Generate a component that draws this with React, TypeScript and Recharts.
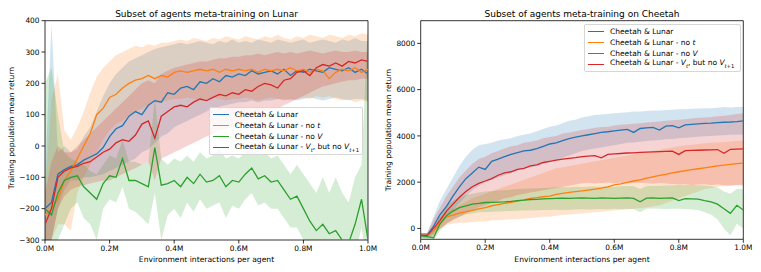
import React from "react";
import {
  Area,
  ComposedChart,
  Line,
  ReferenceArea,
  XAxis,
  YAxis,
} from "recharts";

// x positions, in millions of environment interactions
const X = [
  0, 0.02, 0.04, 0.06, 0.08, 0.1, 0.12, 0.14, 0.16, 0.18, 0.2, 0.22, 0.24, 0.26, 0.28, 0.3, 0.32,
  0.34, 0.36, 0.38, 0.4, 0.42, 0.44, 0.46, 0.48, 0.5, 0.52, 0.54, 0.56, 0.58, 0.6, 0.62, 0.64, 0.66,
  0.68, 0.7, 0.72, 0.74, 0.76, 0.78, 0.8, 0.82, 0.84, 0.86, 0.88, 0.9, 0.92, 0.94, 0.96, 0.98, 1.0,
];

// ---- Lunar (left) ----
const L_BLUE = [-200,-180,-90,-75,-65,-60,-45,-35,-25,-5,30,55,65,95,110,100,130,145,140,170,165,185,190,180,205,200,215,205,225,220,230,225,240,230,235,240,230,245,225,240,235,245,240,235,250,245,240,250,235,245,230];
const L_BLUE_LO = [-300,-300,-200,-140,-110,-110,-100,-100,-95,-90,-80,-70,-60,-50,-40,-20,-10,10,30,40,60,70,80,90,100,110,120,125,130,135,140,140,145,140,145,145,150,145,150,145,150,155,150,145,150,155,150,145,150,150,145];
const L_BLUE_HI = [-100,390,-20,0,-20,-10,30,60,110,160,200,230,250,270,280,290,300,310,315,320,325,330,325,330,335,330,325,335,330,340,330,335,330,340,335,330,340,335,330,335,340,330,335,340,335,330,340,335,345,335,335];

const L_ORANGE = [-220,-200,-170,-110,-80,-40,0,40,100,120,155,165,185,200,210,215,225,215,225,220,235,240,235,240,245,240,245,235,245,240,245,240,245,235,245,240,245,240,250,240,245,235,245,240,215,235,245,240,250,235,245];
const L_ORANGE_LO = [-300,-300,-250,-250,-270,-150,-100,-60,-20,20,50,70,80,100,110,120,130,140,140,145,150,150,155,150,145,150,155,150,145,150,150,155,150,145,150,155,150,150,145,150,155,150,160,155,160,150,145,150,140,145,140];
const L_ORANGE_HI = [-150,150,230,50,20,60,110,170,220,250,270,290,300,310,320,315,325,320,330,330,335,340,335,345,340,335,345,340,350,345,340,350,345,340,350,345,355,345,340,350,345,355,350,345,355,350,345,355,350,360,355];

const L_GREEN = [-200,-220,-150,-110,-100,-95,-130,-150,-170,-120,-95,-100,-40,-110,-110,-120,-130,-5,-125,-120,-110,-130,-100,-120,-90,-115,-110,-95,-130,-110,-115,-90,-70,-105,-95,-115,-110,-140,-170,-160,-200,-240,-270,-250,-280,-270,-300,-310,-250,-170,-300];
const L_GREEN_LO = [-300,-300,-300,-250,-200,-180,-230,-250,-300,-200,-170,-180,-130,-200,-210,-230,-250,-150,-300,-220,-200,-230,-180,-210,-170,-200,-190,-180,-230,-190,-200,-170,-150,-190,-180,-200,-200,-230,-260,-260,-300,-330,-360,-340,-370,-360,-400,-400,-350,-260,-400];
const L_GREEN_HI = [200,250,100,-20,-40,-50,-60,-80,-90,-60,-30,-40,20,-50,-50,-60,-50,150,-40,-60,-40,-50,-30,-50,-20,-40,-30,-10,-40,-30,-40,-20,0,-30,-20,-40,-30,-60,-90,-60,-90,-120,-150,-100,-150,-100,-150,-180,-100,-60,400];

const L_RED = [-250,-200,-100,-80,-70,-65,-55,-50,-35,-20,-10,10,20,15,35,70,80,25,95,110,125,130,125,140,150,145,155,165,160,170,165,180,175,190,200,195,185,210,215,235,240,225,250,260,255,265,255,270,265,275,270];
const L_RED_LO = [-300,-300,-200,-160,-140,-130,-125,-120,-115,-110,-110,-100,-90,-80,-70,-60,-50,-110,-40,-30,-20,-10,0,10,20,30,40,50,55,60,70,80,90,100,110,115,120,130,140,150,160,170,180,190,195,200,205,210,210,215,215];
const L_RED_HI = [-150,-50,0,-20,-20,0,20,40,60,80,100,120,140,160,180,200,210,200,230,240,250,255,260,265,270,270,275,280,280,285,285,290,290,295,290,295,300,295,300,295,300,305,300,295,300,305,300,300,305,300,300];

// ---- Cheetah (right) ----
const C_BLUE = [-300,-300,100,600,950,1400,1800,2150,2400,2650,2550,2900,3000,3100,3200,3280,3350,3380,3450,3550,3650,3700,3800,3880,3950,4000,4050,4100,4150,4180,4220,4250,4280,4150,4320,4350,4370,4250,4420,4440,4350,4480,4500,4520,4540,4550,4570,4590,4600,4620,4650];
const C_BLUE_LO = [-400,-400,-200,200,500,800,1100,1400,1650,1850,2000,2100,2200,2300,2400,2500,2600,2650,2700,2800,2900,2950,3050,3150,3250,3350,3400,3450,3500,3550,3600,3650,3700,3720,3750,3780,3800,3820,3850,3870,3900,3920,3940,3960,3980,4000,4020,4030,4050,4050,4060];
const C_BLUE_HI = [-200,-200,500,1200,1700,2200,2700,3100,3400,3600,3650,3700,3800,3850,3900,4000,4050,4100,4200,4300,4400,4450,4550,4650,4700,4800,4850,4900,4920,4950,4980,5000,5020,5050,5050,5080,5100,5100,5120,5130,5150,5150,5170,5180,5200,5200,5220,5250,5230,5250,5250];

const C_ORANGE = [-300,-300,-100,200,500,580,660,720,780,850,900,980,1030,1080,1130,1180,1230,1300,1330,1370,1400,1470,1520,1560,1590,1620,1660,1700,1740,1800,1880,1930,1990,2050,2100,2170,2230,2290,2340,2400,2450,2500,2540,2580,2620,2660,2700,2740,2770,2800,2820];
const C_ORANGE_LO = [-400,-400,-300,0,150,200,250,250,280,300,300,350,350,380,400,400,420,450,470,500,500,550,580,600,620,650,680,700,720,750,780,800,820,850,880,900,950,1000,1100,1200,1300,1400,1500,1600,1700,1750,1800,1820,1850,1880,1900];
const C_ORANGE_HI = [-200,-200,100,500,700,850,1000,1150,1300,1400,1500,1600,1700,1800,1900,2000,2100,2200,2300,2400,2500,2600,2650,2700,2750,2800,2850,2900,2950,3000,3050,3100,3150,3200,3250,3300,3350,3400,3450,3500,3550,3580,3620,3650,3680,3700,3720,3740,3760,3780,3800];

const C_GREEN = [-300,-350,-400,200,550,750,900,980,1050,1080,1120,1130,1140,1150,1170,1200,1220,1250,1260,1280,1290,1300,1310,1300,1310,1320,1310,1300,1320,1310,1300,1310,1320,1300,1150,1310,1320,1300,1310,1320,1200,1290,1280,1270,1200,1150,1050,850,650,1000,800];
const C_GREEN_LO = [-400,-500,-500,-100,200,400,500,600,650,700,700,720,730,740,750,760,770,780,790,800,800,810,800,810,820,830,820,830,840,830,850,840,850,840,700,850,860,850,840,850,850,840,820,800,700,600,400,0,-300,200,0];
const C_GREEN_HI = [-200,-200,-100,600,1000,1200,1350,1450,1500,1550,1600,1620,1640,1650,1670,1700,1720,1730,1740,1750,1760,1780,1790,1780,1800,1790,1800,1810,1800,1820,1800,1820,1830,1820,1700,1830,1840,1850,1860,1870,1880,1890,1880,1870,1860,1820,1780,1600,1500,1700,1700];

const C_RED = [-300,-300,0,350,750,1050,1350,1600,1800,1950,2050,2150,2300,2400,2450,2550,2600,2700,2750,2850,2900,2950,3000,3030,3060,3100,3130,3150,3050,3200,3220,3240,3260,3270,3290,3300,3310,3320,3330,3340,3200,3360,3370,3380,3390,3400,3410,3250,3420,3430,3440];
const C_RED_LO = [-400,-400,-300,0,200,350,500,650,800,900,1000,1100,1200,1300,1350,1450,1500,1550,1600,1650,1700,1750,1800,1850,1900,1950,1980,1940,1960,1990,1950,1970,1940,1960,1980,1950,1930,1960,1940,1920,1900,1920,1880,1900,1910,1880,1900,1870,1860,1880,1850];
const C_RED_HI = [-200,-200,400,900,1400,1800,2200,2500,2800,3000,3100,3250,3350,3450,3550,3600,3700,3750,3800,3900,3950,4000,4100,4150,4200,4250,4300,4350,4380,4400,4450,4480,4500,4520,4550,4580,4600,4620,4650,4680,4700,4720,4750,4780,4800,4820,4850,4870,4900,4950,4980];

const X_TICKS = [0, 0.2, 0.4, 0.6, 0.8, 1.0];
const L_Y_TICKS = [-300, -200, -100, 0, 100, 200, 300, 400];
const C_Y_TICKS = [0, 2000, 4000, 6000, 8000];

const KEYS = ["blue", "orange", "green", "red"] as const;
const COLORS: Record<string, string> = {
  blue: "#1f77b4",
  orange: "#ff7f0e",
  green: "#2ca02c",
  red: "#d62728",
};

const FONT = "'DejaVu Sans', sans-serif";

function buildRows(src: Record<string, number[][]>) {
  return X.map((x, i) => {
    const row: Record<string, unknown> = { x };
    for (const k of KEYS) {
      const [mean, lo, hi] = src[k];
      row[k] = mean[i];
      row[k + "Band"] = [lo[i], hi[i]];
    }
    return row;
  });
}

const lunarRows = buildRows({
  blue: [L_BLUE, L_BLUE_LO, L_BLUE_HI],
  orange: [L_ORANGE, L_ORANGE_LO, L_ORANGE_HI],
  green: [L_GREEN, L_GREEN_LO, L_GREEN_HI],
  red: [L_RED, L_RED_LO, L_RED_HI],
});

const cheetahRows = buildRows({
  blue: [C_BLUE, C_BLUE_LO, C_BLUE_HI],
  orange: [C_ORANGE, C_ORANGE_LO, C_ORANGE_HI],
  green: [C_GREEN, C_GREEN_LO, C_GREEN_HI],
  red: [C_RED, C_RED_LO, C_RED_HI],
});

const legendLabels: Record<string, React.ReactNode> = {
  blue: <>Cheetah &amp; Lunar</>,
  orange: (
    <>
      Cheetah &amp; Lunar - no <i>t</i>
    </>
  ),
  green: (
    <>
      Cheetah &amp; Lunar - no <i>V</i>
    </>
  ),
  red: (
    <>
      Cheetah &amp; Lunar - <i>V</i>
      <sub style={{ fontSize: "0.7em" }}>
        <i>t</i>
      </sub>
      , but no <i>V</i>
      <sub style={{ fontSize: "0.7em" }}>
        <i>t</i>+1
      </sub>
    </>
  ),
};

const fmtX = (v: number) => v.toFixed(1) + "M";
const fmtY = (v: number) => (v < 0 ? "\u2212" + Math.abs(v) : String(v));

const tickStyle = { fontSize: 7.4, fontFamily: FONT, fill: "#000" };

function LegendBox({ left, top, width }: { left: number; top: number; width: number }) {
  return (
    <div
      style={{
        position: "absolute",
        left,
        top,
        width,
        boxSizing: "border-box",
        padding: "1px 3px",
        background: "rgba(255,255,255,0.8)",
        border: "1px solid #d6d6d6",
        borderRadius: 2,
        fontFamily: FONT,
        fontSize: 7.5,
        lineHeight: "11px",
        color: "#000",
      }}
    >
      {KEYS.map((k) => (
        <div key={k} style={{ display: "flex", alignItems: "center", height: 11, whiteSpace: "nowrap" }}>
          <span
            style={{
              display: "inline-block",
              width: 16,
              height: 0,
              borderTop: `1.5px solid ${COLORS[k]}`,
              marginRight: 6,
            }}
          />
          <span>{legendLabels[k]}</span>
        </div>
      ))}
    </div>
  );
}

function Panel({
  rows,
  width,
  margin,
  yWidth,
  domain,
  yTicks,
}: {
  rows: Record<string, unknown>[];
  width: number;
  margin: { top: number; right: number; bottom: number; left: number };
  yWidth: number;
  domain: [number, number];
  yTicks: number[];
}) {
  return (
    <ComposedChart width={width} height={272} data={rows} margin={margin}>
      <XAxis
        dataKey="x"
        type="number"
        domain={[0, 1]}
        ticks={X_TICKS}
        tickFormatter={fmtX}
        tick={tickStyle}
        tickSize={3.5}
        tickLine={{ stroke: "#000", strokeWidth: 0.8 }}
        axisLine={false}
        height={30}
        allowDataOverflow
      />
      <YAxis
        type="number"
        domain={domain}
        ticks={yTicks}
        tickFormatter={fmtY}
        tick={tickStyle}
        tickSize={3.5}
        tickLine={{ stroke: "#000", strokeWidth: 0.8 }}
        axisLine={false}
        width={yWidth}
        allowDataOverflow
      />
      {KEYS.map((k) => (
        <Area
          key={k + "Band"}
          dataKey={k + "Band"}
          type="linear"
          stroke="none"
          fill={COLORS[k]}
          fillOpacity={0.2}
          dot={false}
          activeDot={false}
          isAnimationActive={false}
        />
      ))}
      {KEYS.map((k) => (
        <Line
          key={k}
          dataKey={k}
          type="linear"
          stroke={COLORS[k]}
          strokeWidth={1.3}
          dot={false}
          activeDot={false}
          isAnimationActive={false}
        />
      ))}
      <ReferenceArea
        x1={0}
        x2={1}
        y1={domain[0]}
        y2={domain[1]}
        fill="none"
        fillOpacity={0}
        stroke="#000"
        strokeWidth={0.8}
        ifOverflow="visible"
      />
    </ComposedChart>
  );
}

const textBase: React.CSSProperties = {
  position: "absolute",
  fontFamily: FONT,
  color: "#000",
  whiteSpace: "nowrap",
  transform: "translate(-50%, -50%)",
};

export default function App() {
  return (
    <div style={{ position: "absolute", left: 0, top: 0, width: 761, height: 272, background: "#fff" }}>
      <div style={{ position: "absolute", left: 0, top: 0 }}>
        <Panel
          rows={lunarRows}
          width={380}
          margin={{ top: 20.7, right: 12, bottom: 2, left: 0 }}
          yWidth={45}
          domain={[-300, 400]}
          yTicks={L_Y_TICKS}
        />
      </div>
      <div style={{ position: "absolute", left: 380, top: 0 }}>
        <Panel
          rows={cheetahRows}
          width={381}
          margin={{ top: 20.7, right: 17.7, bottom: 2.7, left: 0 }}
          yWidth={40.7}
          domain={[-470, 8980]}
          yTicks={C_Y_TICKS}
        />
      </div>

      <div style={{ ...textBase, left: 206.5, top: 13.7, fontSize: 9 }}>
        Subset of agents meta-training on Lunar
      </div>
      <div style={{ ...textBase, left: 582, top: 13.7, fontSize: 9 }}>
        Subset of agents meta-training on Cheetah
      </div>
      <div style={{ ...textBase, left: 206.5, top: 259, fontSize: 7.6 }}>
        Environment interactions per agent
      </div>
      <div style={{ ...textBase, left: 582, top: 258.5, fontSize: 7.6 }}>
        Environment interactions per agent
      </div>
      <div style={{ ...textBase, left: 11, top: 128, fontSize: 7.6, transform: "translate(-50%, -50%) rotate(-90deg)" }}>
        Training population mean return
      </div>
      <div style={{ ...textBase, left: 388.3, top: 130, fontSize: 7.6, transform: "translate(-50%, -50%) rotate(-90deg)" }}>
        Training population mean return
      </div>

      <LegendBox left={208.7} top={107.3} width={154.6} />
      <LegendBox left={584} top={24} width={157.3} />
    </div>
  );
}
